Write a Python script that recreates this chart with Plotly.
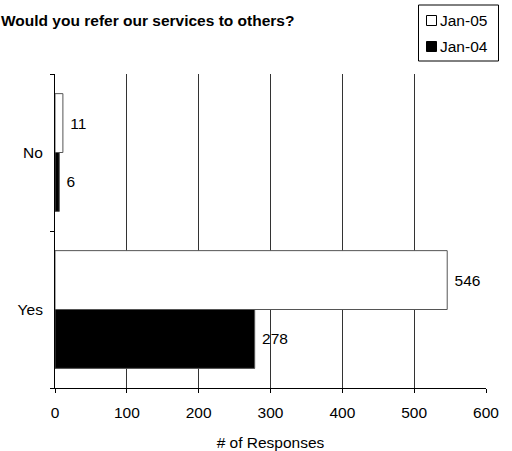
import plotly.graph_objects as go

categories = ["Yes", "No"]
jan04 = [278, 6]
jan05 = [546, 11]
x_ticks = [0, 100, 200, 300, 400, 500, 600]
series_names = ["Jan-05", "Jan-04"]
series_fill = ["white", "black"]

FONT = "Liberation Sans, Arial, sans-serif"
FS = 15.5
EDGE = "#555555"

# plot area geometry (pixels)
W, H = 512, 451
ML, MR, MT, MB = 55, 26, 74, 63
PW, PH = W - ML - MR, H - MT - MB


def px(x):
    return (x - ML) / PW


def py(y):
    return (H - MB - y) / PH


fig = go.Figure()
fig.add_trace(go.Bar(
    y=categories, x=jan04, orientation="h", name="Jan-04",
    marker=dict(color="black", line=dict(color=EDGE, width=1)),
    texttemplate="\u00a0%{x}", textposition="outside",
    textfont=dict(family=FONT, size=FS, color="black"),
    cliponaxis=False,
))
fig.add_trace(go.Bar(
    y=categories, x=jan05, orientation="h", name="Jan-05",
    marker=dict(color="white", line=dict(color=EDGE, width=1)),
    texttemplate="\u00a0%{x}", textposition="outside",
    textfont=dict(family=FONT, size=FS, color="black"),
    cliponaxis=False,
))

shapes = [dict(type="rect", xref="paper", yref="paper",
               x0=px(418.5), x1=px(498.5), y0=py(61), y1=py(5),
               line=dict(color="black", width=1), fillcolor="white")]
annotations = [dict(
    text="<b>Would you refer our services to others?</b>",
    xref="paper", yref="paper", x=px(-1), y=py(20),
    xanchor="left", yanchor="middle", showarrow=False,
    font=dict(family=FONT, size=FS, color="black"),
)]
for i, (name, fill) in enumerate(zip(series_names, series_fill)):
    cy = 20 + 26 * i
    shapes.append(dict(type="rect", xref="paper", yref="paper",
                       x0=px(426.5), x1=px(436.5), y0=py(cy + 5.5), y1=py(cy - 4.5),
                       line=dict(color="black", width=1), fillcolor=fill))
    annotations.append(dict(
        text=name, xref="paper", yref="paper", x=px(438), y=py(cy),
        xanchor="left", yanchor="middle", showarrow=False,
        font=dict(family=FONT, size=FS, color="black"),
    ))

fig.update_layout(
    width=W, height=H,
    margin=dict(l=ML, r=MR, t=MT, b=MB, autoexpand=False),
    paper_bgcolor="white", plot_bgcolor="white",
    font=dict(family=FONT, size=FS, color="black"),
    barmode="group", bargap=0.25, bargroupgap=0,
    showlegend=False,
    shapes=shapes,
    annotations=annotations,
)

fig.update_xaxes(
    range=[0, 600], tickvals=x_ticks, ticktext=[str(t) for t in x_ticks],
    showgrid=True, gridcolor="#333333", gridwidth=1,
    showline=True, linecolor="black", linewidth=1,
    ticks="outside", ticklen=4, tickcolor="black",
    zeroline=False, ticklabelstandoff=6,
    title=dict(text="# of Responses", font=dict(family=FONT, size=FS), standoff=18),
    tickfont=dict(family=FONT, size=FS),
)
fig.update_yaxes(
    showgrid=False, showline=True, linecolor="black", linewidth=1,
    ticks="outside", ticklen=4, tickcolor="black", tickson="boundaries",
    tickfont=dict(family=FONT, size=FS), ticklabelstandoff=8,
)

fig.write_html("out.html")
